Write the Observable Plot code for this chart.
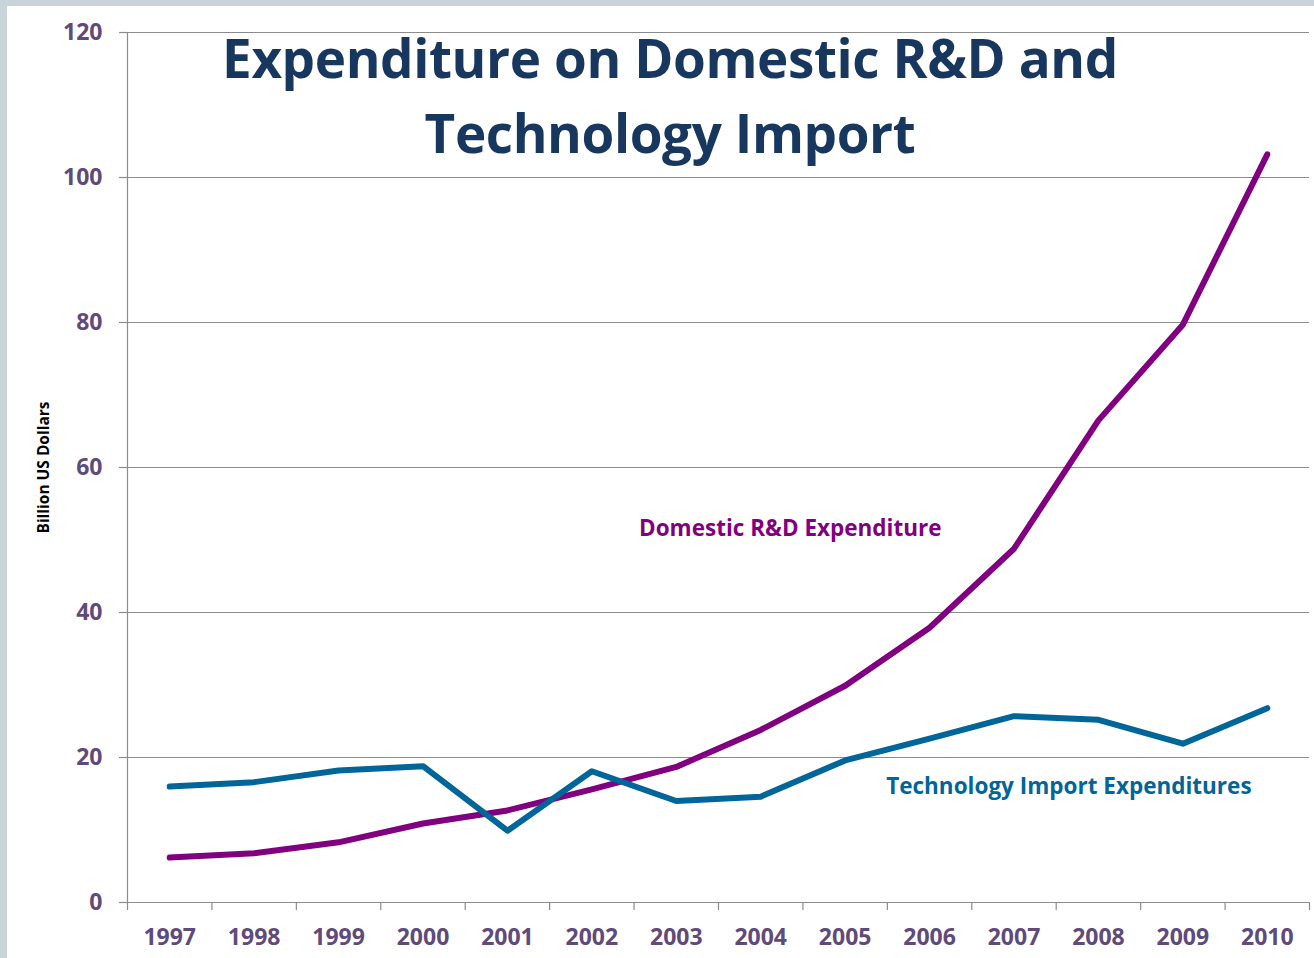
<!DOCTYPE html>
<html>
<head>
<meta charset="utf-8">
<script src="https://cdn.jsdelivr.net/npm/d3@7"></script>
<script src="https://cdn.jsdelivr.net/npm/@observablehq/plot@0.6"></script>
<style>
  html, body { margin: 0; padding: 0; background: #ffffff; }
  #wrap { position: relative; width: 1314px; height: 958px; overflow: hidden; }
  .edge { position: absolute; background: #c8d3da; }
  #title { position: absolute; left: 0; top: 20px; width: 1340px; text-align: center;
    font-family: "Open Sans", sans-serif; font-weight: 700; font-size: 53px; line-height: 75px;
    color: #17375e; letter-spacing: -0.4px; }
</style>
</head>
<body>
<div id="wrap"></div>
<script>
const years = [1997, 1998, 1999, 2000, 2001, 2002, 2003, 2004, 2005, 2006, 2007, 2008, 2009, 2010];
const domesticRD = [6.2, 6.8, 8.3, 10.9, 12.7, 15.6, 18.7, 23.8, 29.9, 37.9, 48.8, 66.5, 79.7, 103.2];
const techImport = [16.0, 16.6, 18.2, 18.8, 9.9, 18.1, 14.0, 14.6, 19.6, 22.6, 25.7, 25.2, 21.9, 26.8];
const yTicks = [0, 20, 40, 60, 80, 100, 120];
const seriesNames = ["Domestic R&D Expenditure", "Technology Import Expenditures"];
const seriesColors = ["#800080", "#006699"];
const labelColors = ["#800080", "#006699"];
// annotation anchor for each series label (year, value)
const labelYear = [2004.35, 2007.65];
const labelValue = [51.6, 15.9];
const titleText = ["Expenditure on Domestic R&D and", "Technology Import"];
const yLabel = "Billion US Dollars";

const rows = [];
years.forEach((yr, i) => {
  rows.push({year: yr, value: domesticRD[i], series: seriesNames[0]});
  rows.push({year: yr, value: techImport[i], series: seriesNames[1]});
});
const labels = seriesNames.map((s, i) => ({series: s, year: labelYear[i], value: labelValue[i], color: labelColors[i]}));
const bounds = years.map(y => y - 0.5).concat([years[years.length - 1] + 0.5]);

const font = '"Open Sans", sans-serif';
const chart = Plot.plot({
  width: 1314,
  height: 958,
  marginLeft: 127,
  marginRight: 5,
  marginTop: 32,
  marginBottom: 56,
  style: {fontFamily: font, background: "transparent", overflow: "visible"},
  x: {domain: [bounds[0], bounds[bounds.length - 1]], axis: null},
  y: {domain: [0, 120], axis: null},
  color: {domain: seriesNames, range: seriesColors},
  marks: [
    Plot.ruleY(yTicks, {stroke: "#8c8c8c", strokeWidth: 1.2}),
    Plot.ruleX([bounds[0]], {stroke: "#8c8c8c", strokeWidth: 1.2}),
    Plot.axisY({ticks: yTicks, tickSize: 8, tickPadding: 17, stroke: "#8c8c8c", strokeWidth: 1.2,
      fill: "#604a7b", fontSize: 23, fontWeight: 700, label: null}),
    Plot.axisX({ticks: bounds, tickSize: 8, tickFormat: () => "", stroke: "#8c8c8c", strokeWidth: 1.2, label: null}),
    Plot.axisX({ticks: years, tickSize: 0, tickPadding: 26, tickFormat: d => String(d),
      fill: "#604a7b", fontSize: 23, fontWeight: 700, label: null}),
    Plot.line(rows, {x: "year", y: "value", z: "series", stroke: "series", strokeWidth: 6,
      strokeLinecap: "round", strokeLinejoin: "round"}),
    Plot.text(labels, {x: "year", y: "value", text: "series", fill: "color", fontSize: 22.5, fontWeight: 700,
      textAnchor: "middle"}),
    Plot.text([yLabel], {frameAnchor: "left", dx: -83, rotate: -90, textAnchor: "middle",
      fontSize: 15.5, fontWeight: 700, fill: "#000000"})
  ]
});

const wrap = document.getElementById("wrap");
wrap.appendChild(chart);
chart.style.position = "absolute";
chart.style.left = "0px";
chart.style.top = "0px";
const t = document.createElement("div");
t.id = "title";
t.innerHTML = titleText.map(s => s.replace(/&/g, "&amp;")).join("<br>");
wrap.appendChild(t);
const e1 = document.createElement("div"); e1.className = "edge";
Object.assign(e1.style, {left: "0px", top: "0px", width: "7px", height: "958px"});
const e2 = document.createElement("div"); e2.className = "edge";
Object.assign(e2.style, {left: "0px", top: "0px", width: "1314px", height: "6px"});
wrap.appendChild(e1); wrap.appendChild(e2);
</script>
</body>
</html>
